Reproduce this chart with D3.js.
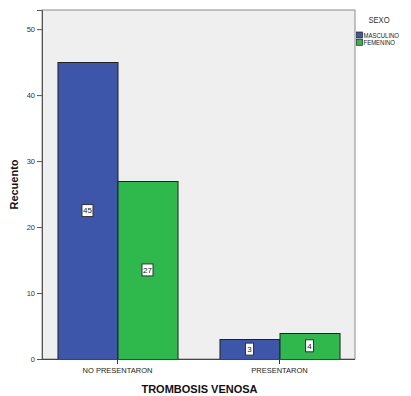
<!DOCTYPE html>
<html>
<head>
<meta charset="utf-8">
<script src="https://cdn.jsdelivr.net/npm/d3@7"></script>
<style>
  html, body { margin: 0; padding: 0; background: #ffffff; }
  svg { display: block; font-family: "Liberation Sans", Arial, sans-serif; }
</style>
</head>
<body>
<svg id="chart" width="411" height="396"></svg>
<script>
// Categories of the x axis and series per sex
const categories = ["NO PRESENTARON", "PRESENTARON"];
const seriesNames = ["MASCULINO", "FEMENINO"];
const masculino = [45, 3];
const femenino = [27, 4];
const yTicks = [0, 10, 20, 30, 40, 50];
const seriesColors = ["#3d56a9", "#2fb84b"];

const svg = d3.select("#chart");
const plot = { left: 42, top: 10, right: 355, bottom: 359 };

const y = d3.scaleLinear().domain([0, 52.9]).range([plot.bottom, plot.top]);
const x = d3.scaleBand().domain(categories)
  .range([plot.left, plot.right]).paddingInner(0.259).paddingOuter(0.0955);
const xs = d3.scaleBand().domain(seriesNames).range([0, x.bandwidth()]);

// plot area background
svg.append("rect")
  .attr("x", plot.left).attr("y", plot.top)
  .attr("width", plot.right - plot.left).attr("height", plot.bottom - plot.top)
  .attr("fill", "#efefef").attr("stroke", "#8c8c8c").attr("stroke-width", 1);

const rows = categories.map((c, i) => ({ cat: c, values: [masculino[i], femenino[i]] }));

const groups = svg.append("g").selectAll("g").data(rows).join("g")
  .attr("transform", d => `translate(${x(d.cat)},0)`);

groups.selectAll("rect").data(d => d.values.map((v, j) => ({ v, s: seriesNames[j], j })))
  .join("rect")
  .attr("x", d => xs(d.s) + 0.5)
  .attr("y", d => Math.round(y(d.v)) + 0.5)
  .attr("width", xs.bandwidth())
  .attr("height", d => y(0) - Math.round(y(d.v)))
  .attr("fill", d => seriesColors[d.j])
  .attr("stroke", "#222")
  .attr("stroke-width", 1);

// value labels in boxes at bar middle
const lab = groups.selectAll("g.lab").data(d => d.values.map((v, j) => ({ v, s: seriesNames[j] })))
  .join("g").attr("class", "lab")
  .attr("transform", d => `translate(${xs(d.s) + xs.bandwidth() / 2},${(y(d.v) + y(0)) / 2})`);
lab.append("rect")
  .attr("x", d => String(d.v).length > 1 ? -5.5 : -4)
  .attr("y", -6).attr("width", d => String(d.v).length > 1 ? 11 : 8).attr("height", 12)
  .attr("fill", "#ffffff").attr("stroke", "#333").attr("stroke-width", 1);
lab.append("text").attr("text-anchor", "middle").attr("dy", "0.35em")
  .attr("font-size", 8).attr("fill", "#222").text(d => d.v);

// y axis
const yAxis = d3.axisLeft(y).tickValues(yTicks).tickSize(5).tickPadding(2);
const yg = svg.append("g").attr("transform", `translate(${plot.left},0)`).call(yAxis);
yg.select(".domain").attr("stroke", "#555");
yg.selectAll(".tick line").attr("stroke", "#555");
yg.selectAll(".tick text").attr("font-size", 7.5).attr("fill", "#333")
  .attr("font-family", "Liberation Sans, Arial, sans-serif");

// x axis
const xAxis = d3.axisBottom(x).tickSize(5).tickPadding(4);
const xg = svg.append("g").attr("transform", `translate(0,${plot.bottom})`).call(xAxis);
xg.select(".domain").remove();
svg.append("line").attr("x1", plot.left).attr("x2", plot.right)
  .attr("y1", plot.bottom + 0.5).attr("y2", plot.bottom + 0.5).attr("stroke", "#444");
xg.selectAll(".tick line").attr("stroke", "#333");
xg.selectAll(".tick text").attr("font-size", 7.5).attr("fill", "#222")
  .attr("font-family", "Liberation Sans, Arial, sans-serif");

// axis titles
svg.append("text").attr("x", (plot.left + plot.right) / 2 + 1).attr("y", 393)
  .attr("text-anchor", "middle").attr("font-weight", "bold").attr("font-size", 11)
  .attr("fill", "#111").text("TROMBOSIS VENOSA");
svg.append("text").attr("transform", `translate(18,${(plot.top + plot.bottom) / 2}) rotate(-90)`)
  .attr("text-anchor", "middle").attr("font-weight", "bold").attr("font-size", 11)
  .attr("fill", "#111").text("Recuento");

// legend (slightly condensed lettering)
svg.append("text").attr("transform", "translate(379,23) scale(0.85,1)")
  .attr("text-anchor", "middle")
  .attr("font-size", 9).attr("fill", "#333").text("SEXO");
const leg = svg.append("g").selectAll("g").data(seriesNames).join("g")
  .attr("transform", (d, i) => `translate(356.5,${32 + i * 7.3})`);
leg.append("rect").attr("width", 6).attr("height", 6)
  .attr("fill", (d, i) => seriesColors[i]).attr("stroke", "#222").attr("stroke-width", 0.7);
leg.append("text").attr("transform", "translate(7,5.8) scale(0.92,1)")
  .attr("font-size", 6.5).attr("fill", "#222").text(d => d);
</script>
</body>
</html>
